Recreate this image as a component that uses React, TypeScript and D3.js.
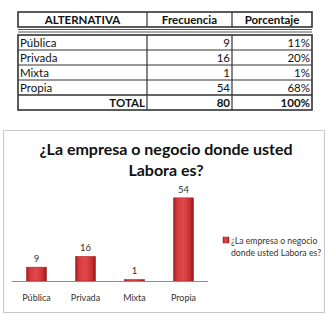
import { useRef, useEffect } from "react"
import * as d3 from "d3"

const categories = ["Pública", "Privada", "Mixta", "Propia"]
const frecuencia = [9, 16, 1, 54]
const porcentaje = ["11%", "20%", "1%", "68%"]
const totalLabel = ["TOTAL", "80", "100%"]
const headers = ["ALTERNATIVA", "Frecuencia", "Porcentaje"]
const title = ["¿La empresa o negocio donde usted", "Labora es?"]
const legendLines = ["¿La empresa o negocio", "donde usted Labora es?"]

const FONT = "Lato, 'Liberation Sans', sans-serif"

export default function App() {
  const svgRef = useRef<SVGSVGElement>(null)

  useEffect(() => {
    const svg = d3.select(svgRef.current)
    svg.selectAll("*").remove()

    // ---- table ----
    const colX = [18, 147, 232, 312]
    const tbl = svg.append("g").style("font-family", FONT)

    // header row
    tbl.append("rect").attr("x", colX[0]).attr("y", 12).attr("width", colX[3] - colX[0]).attr("height", 15)
      .attr("fill", "#fff").attr("stroke", "#333").attr("stroke-width", 1.6)
    colX.slice(1, 3).forEach((x) =>
      tbl.append("line").attr("x1", x).attr("x2", x).attr("y1", 12).attr("y2", 27).attr("stroke", "#333").attr("stroke-width", 1.2))
    headers.forEach((h, i) =>
      tbl.append("text").attr("x", (colX[i] + colX[i + 1]) / 2).attr("y", 23.5).attr("text-anchor", "middle")
        .style("font-size", "11.5px").style("font-weight", "bold").attr("fill", "#111").text(h))

    // double line separator
    tbl.append("line").attr("x1", colX[0]).attr("x2", colX[3]).attr("y1", 29.5).attr("y2", 29.5).attr("stroke", "#555").attr("stroke-width", 1)
    tbl.append("line").attr("x1", colX[0]).attr("x2", colX[3]).attr("y1", 32).attr("y2", 32).attr("stroke", "#555").attr("stroke-width", 1)

    // body rows
    const rowTop = 35
    const rowH = 15
    const y = (i: number) => rowTop + i * rowH
    tbl.append("rect").attr("x", colX[0]).attr("y", rowTop).attr("width", colX[3] - colX[0]).attr("height", rowH * 5)
      .attr("fill", "#fff").attr("stroke", "#333").attr("stroke-width", 1.6)
    for (let i = 1; i < 5; i++) {
      tbl.append("line").attr("x1", colX[0]).attr("x2", colX[3]).attr("y1", y(i)).attr("y2", y(i))
        .attr("stroke", "#333").attr("stroke-width", i === 4 ? 1.6 : 1)
    }
    colX.slice(1, 3).forEach((x) =>
      tbl.append("line").attr("x1", x).attr("x2", x).attr("y1", rowTop).attr("y2", y(5)).attr("stroke", "#333").attr("stroke-width", 1.2))

    categories.forEach((c, i) => {
      const ty = y(i) + 11.5
      tbl.append("text").attr("x", colX[0] + 2).attr("y", ty).style("font-size", "11.5px").attr("fill", "#111").text(c)
      tbl.append("text").attr("x", colX[2] - 2).attr("y", ty).attr("text-anchor", "end").style("font-size", "11.5px").attr("fill", "#111").text(frecuencia[i])
      tbl.append("text").attr("x", colX[3] - 2).attr("y", ty).attr("text-anchor", "end").style("font-size", "11.5px").attr("fill", "#111").text(porcentaje[i])
    })
    totalLabel.forEach((t, i) =>
      tbl.append("text").attr("x", colX[i + 1] - 2).attr("y", y(4) + 11.5).attr("text-anchor", "end")
        .style("font-size", "11.5px").style("font-weight", "bold").attr("fill", "#111").text(t))

    // ---- chart ----
    const chart = svg.append("g").style("font-family", FONT)
    chart.append("rect").attr("x", 3.5).attr("y", 130.5).attr("width", 321).attr("height", 182)
      .attr("fill", "#fff").attr("stroke", "#c8c8c8").attr("stroke-width", 1)

    chart.append("text").attr("text-anchor", "middle").style("font-size", "16px").style("font-weight", "bold").attr("fill", "#111")
      .selectAll("tspan").data(title).enter().append("tspan")
      .attr("x", 166).attr("y", (_, i) => 155 + i * 21).text((d) => d)

    const defs = svg.append("defs")
    const grad = defs.append("linearGradient").attr("id", "barGrad").attr("x1", "0%").attr("x2", "100%").attr("y1", "0%").attr("y2", "0%")
    grad.append("stop").attr("offset", "0%").attr("stop-color", "#9e1d21")
    grad.append("stop").attr("offset", "18%").attr("stop-color", "#d83a3c")
    grad.append("stop").attr("offset", "50%").attr("stop-color", "#e04a4b")
    grad.append("stop").attr("offset", "82%").attr("stop-color", "#c92e31")
    grad.append("stop").attr("offset", "100%").attr("stop-color", "#8e181b")

    const x = d3.scaleBand().domain(categories).range([12, 208]).paddingInner(0.59).paddingOuter(0.295)
    const yScale = d3.scaleLinear().domain([0, 60]).range([281, 188.6])

    chart.append("g").selectAll("rect").data(frecuencia).enter().append("rect")
      .attr("x", (_, i) => x(categories[i])!)
      .attr("y", (d) => yScale(d))
      .attr("width", x.bandwidth())
      .attr("height", (d) => yScale(0) - yScale(d))
      .attr("fill", "url(#barGrad)")
      .attr("stroke", "#a52024").attr("stroke-width", 0.5)

    chart.append("g").selectAll("text").data(frecuencia).enter().append("text")
      .attr("x", (_, i) => x(categories[i])! + x.bandwidth() / 2)
      .attr("y", (d) => yScale(d) - 5)
      .attr("text-anchor", "middle").style("font-size", "9.5px").attr("fill", "#333")
      .text((d) => d)

    chart.append("line").attr("x1", 12).attr("x2", 208).attr("y1", 281.5).attr("y2", 281.5).attr("stroke", "#8c8c8c").attr("stroke-width", 1)

    chart.append("g").selectAll("text").data(categories).enter().append("text")
      .attr("x", (d) => x(d)! + x.bandwidth() / 2)
      .attr("y", 301)
      .attr("text-anchor", "middle").style("font-size", "9px").attr("fill", "#333")
      .text((d) => d)

    // legend
    chart.append("rect").attr("x", 223).attr("y", 237).attr("width", 6).attr("height", 6)
      .attr("fill", "url(#barGrad)").attr("stroke", "#a52024").attr("stroke-width", 0.5)
    chart.append("text").style("font-size", "8.7px").attr("fill", "#333")
      .selectAll("tspan").data(legendLines).enter().append("tspan")
      .attr("x", 231).attr("y", (_, i) => 244 + i * 11.5).text((d) => d)
  }, [])

  return (
    <svg ref={svgRef} width={332} height={320}
      style={{ position: "absolute", left: 0, top: 0, display: "block", background: "#fff" }} />
  )
}
